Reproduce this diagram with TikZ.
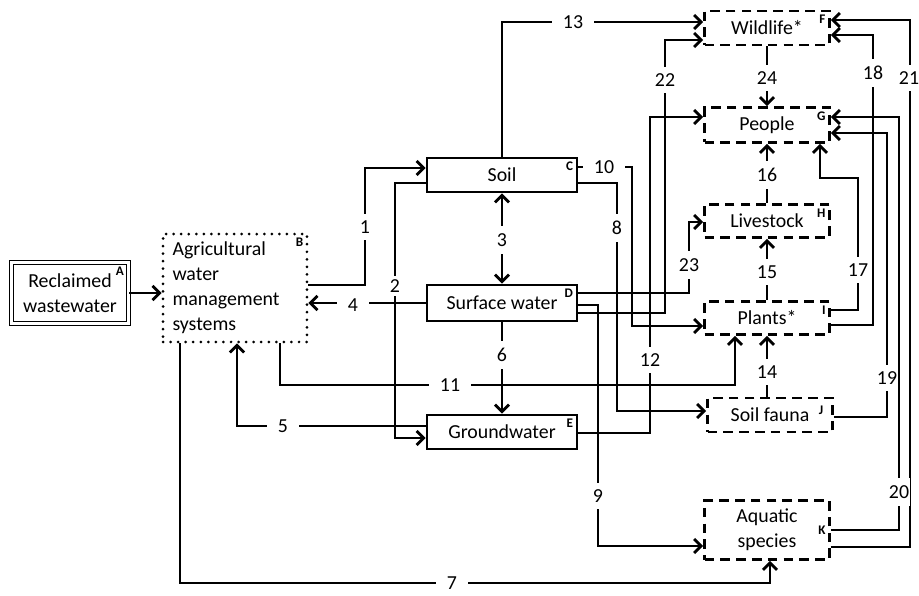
\documentclass[tikz,border=0pt]{standalone}
\usepackage{fontspec}
\setmainfont{Carlito}
\usetikzlibrary{arrows.meta}

\begin{document}
\begin{tikzpicture}[x=0.02cm, y=-0.02cm,
    every node/.style={font=\fontsize{11.3}{14.2}\selectfont},
    solidbox/.style={draw, line width=1.5pt, inner sep=0pt, minimum width=3cm, minimum height=0.68cm},
    dashbox/.style={draw, line width=1.5pt, dash pattern=on 5.5pt off 3.5pt, inner sep=0pt,
        minimum width=2.5cm, minimum height=0.68cm, align=center},
    tag/.style={font=\fontsize{7.5}{8}\selectfont\bfseries, inner sep=2.8pt},
    arr/.style={line width=1.6pt, -{Straight Barb[length=4pt,width=8pt]}},
    darr/.style={line width=1.6pt, {Straight Barb[length=4pt,width=8pt]}-{Straight Barb[length=4pt,width=8pt]}},
    hlab/.style={fill=white, inner xsep=6pt, inner ysep=1pt},
    vlab/.style={fill=white, inner xsep=0.5pt, inner ysep=4pt}]
    \useasboundingbox (0,0) rectangle (919,595);
    % Source and management
    \node[draw, double, double distance=1.4pt, line width=0.7pt, inner sep=0pt,
        minimum width=2.34cm, minimum height=1.22cm, align=center] (rw) at (70,293) {Reclaimed\\wastewater};
    \node[draw, line width=1.7pt, dash pattern=on 0pt off 4.3pt, line cap=round, inner sep=0pt,
        minimum width=2.88cm, minimum height=2.16cm, text width=2.5cm, align=left] (awm) at (235,288)
        {Agricultural\\water\\management\\systems};
    % Environmental compartments
    \node[solidbox] (soil) at (502,175) {Soil};
    \node[solidbox, minimum height=0.72cm] (surf) at (502,303) {Surface water};
    \node[solidbox] (ground) at (502,432) {Groundwater};
    % Receptors
    \node[dashbox] (wild) at (767,28) {Wildlife*};
    \node[dashbox, minimum height=0.7cm] (people) at (767,125) {People};
    \node[dashbox, minimum height=0.66cm] (live) at (767,221) {Livestock};
    \node[dashbox, minimum height=0.66cm] (plants) at (767,318) {Plants*};
    \node[dashbox] (fauna) at (770,415) {Soil fauna};
    \node[dashbox, minimum height=1.18cm] (aqua) at (767,530) {Aquatic\\species};
    % Corner letters
    \node[tag, anchor=north east] (tA) at (rw.north east) {A};
    \node[tag, anchor=north east] (tB) at (awm.north east) {B};
    \node[tag, anchor=north east] (tC) at (soil.north east) {C};
    \node[tag, anchor=north east] (tD) at (surf.north east) {D};
    \node[tag, anchor=north east] (tE) at (ground.north east) {E};
    \node[tag, anchor=north east] (tF) at (wild.north east) {F};
    \node[tag, anchor=north east] (tG) at (people.north east) {G};
    \node[tag, anchor=north east] (tH) at (live.north east) {H};
    \node[tag, anchor=north east] (tI) at (plants.north east) {I};
    \node[tag, anchor=north east] (tJ) at ([xshift=-3pt,yshift=-2pt]fauna.north east) {J};
    \node[tag, anchor=east] (tK) at (aqua.east) {K};
    % Pathways
    \draw[arr] (rw.east) -- (awm.west |- rw.east);
    \draw[arr] (awm.east |- 0,285) -| (365,168) -- (soil.west |- 0,168);
    \draw[arr] (soil.west |- 0,183) -| (395,438) -- (ground.west |- 0,438);
    \draw[darr] (soil.south) -- (surf.north);
    \draw[arr] (surf.west) -- (awm.east |- surf.west);
    \draw[arr] (ground.west |- 0,426) -| (awm.south -| 237,0);
    \draw[arr] (surf.south) -- (ground.north);
    \draw[arr] (awm.south -| 180,0) |- (770,583) -- (aqua.south -| 770,0);
    \draw[arr] (soil.east |- 0,183) -| (617,411) -- (fauna.west |- 0,411);
    \draw[arr] (surf.east |- 0,305) -| (598,546) -- (aqua.west |- 0,546);
    \draw[arr] (soil.east |- 0,167) -| (632,326) -- (plants.west |- 0,326);
    \draw[arr] (awm.south -| 280,0) |- (735,385) -- (plants.south -| 735,0);
    \draw[arr] (ground.east |- 0,433) -| (650,117) -- (people.west |- 0,117);
    \draw[arr] (soil.north) |- (wild.west |- 0,22);
    \draw[arr] (fauna.north -| plants.south) -- (plants.south);
    \draw[arr] (plants.north) -- (live.south);
    \draw[arr] (live.north) -- (people.south);
    \draw[arr] (plants.east |- 0,310) -| (858,178) -| (people.south -| 820,0);
    \draw[arr] (plants.east |- 0,325) -| (873,35) -- (wild.east |- 0,35);
    \draw[arr] (fauna.east |- 0,417) -| (887,133) -- (people.east |- 0,133);
    \draw[arr] (aqua.east |- 0,530) -| (899,117) -- (people.east |- 0,117);
    \draw[arr] (aqua.east |- 0,547) -| (910,20) -- (wild.east |- 0,20);
    \draw[arr] (surf.east |- 0,313) -| (665,40) -- (wild.west |- 0,40);
    \draw[arr] (surf.east |- 0,293) -| (689,222) -- (live.west |- 0,222);
    \draw[arr] (wild.south) -- (people.north);
    % Pathway numbers
    \node[vlab] (n1) at (365,227) {1};
    \node[vlab, inner ysep=2pt] (n2) at (395,286) {2};
    \node[vlab] (n3) at (502,240) {3};
    \node[hlab] (n4) at (353,305) {4};
    \node[hlab] (n5) at (283,426) {5};
    \node[vlab] (n6) at (502,355) {6};
    \node[hlab] (n7) at (452,583) {7};
    \node[vlab] (n8) at (617,228) {8};
    \node[vlab] (n9) at (598,496) {9};
    \node[hlab] (n10) at (604,167) {10};
    \node[hlab] (n11) at (450,385) {11};
    \node[vlab] (n12) at (650,360) {12};
    \node[hlab] (n13) at (573,22) {13};
    \node[vlab] (n14) at (767,372) {14};
    \node[vlab] (n15) at (767,272) {15};
    \node[vlab] (n16) at (767,175) {16};
    \node[vlab] (n17) at (858,270) {17};
    \node[vlab] (n18) at (873,73) {18};
    \node[vlab] (n19) at (887,378) {19};
    \node[vlab] (n20) at (899,492) {20};
    \node[vlab] (n21) at (909,78) {21};
    \node[vlab] (n22) at (665,80) {22};
    \node[vlab] (n23) at (689,265) {23};
    \node[vlab] (n24) at (767,78) {24};
\end{tikzpicture}
\end{document}
